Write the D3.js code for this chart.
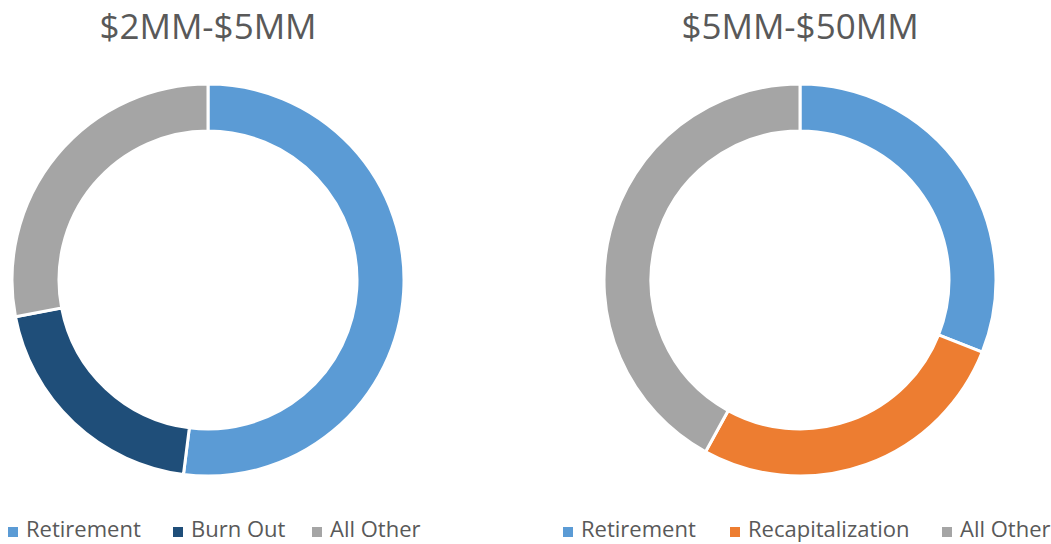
<!DOCTYPE html>
<html>
<head>
<meta charset="utf-8">
<script src="https://cdn.jsdelivr.net/npm/d3@7"></script>
<style>
  html, body { margin: 0; padding: 0; background: #ffffff; }
  svg { display: block; }
  text { font-family: "Open Sans", "Noto Sans", sans-serif; fill: #595959; }
</style>
</head>
<body>
<svg id="chart" width="1051" height="544"></svg>
<script>
// ---- Data ----
const titles = ["$2MM-$5MM", "$5MM-$50MM"];
const leftCategories = ["Retirement", "Burn Out", "All Other"];
const leftValues = [52, 20, 28];
const rightCategories = ["Retirement", "Recapitalization", "All Other"];
const rightValues = [31, 27, 42];
const categoryColors = {
  "Retirement": "#5B9BD5",
  "Burn Out": "#1F4E79",
  "Recapitalization": "#ED7D31",
  "All Other": "#A5A5A5"
};

// ---- Layout ----
const svg = d3.select("#chart");
const outerR = 196, innerR = 149;
const panels = [
  { title: titles[0], cats: leftCategories, vals: leftValues, cx: 208, cy: 280,
    legendX: [8, 173, 312] },
  { title: titles[1], cats: rightCategories, vals: rightValues, cx: 800, cy: 280,
    legendX: [563, 730, 942] }
];

const pie = d3.pie().sort(null).value(d => d.value).startAngle(0).endAngle(2 * Math.PI);
const arc = d3.arc().innerRadius(innerR).outerRadius(outerR);
const color = d3.scaleOrdinal()
  .domain(Object.keys(categoryColors))
  .range(Object.values(categoryColors));

panels.forEach(p => {
  const data = p.cats.map((c, i) => ({ cat: c, value: p.vals[i] }));

  svg.append("text")
    .attr("x", p.cx)
    .attr("y", 39)
    .attr("text-anchor", "middle")
    .style("font-size", "35px")
    .text(p.title);

  const g = svg.append("g").attr("transform", `translate(${p.cx},${p.cy})`);
  g.selectAll("path")
    .data(pie(data))
    .join("path")
    .attr("d", arc)
    .attr("fill", d => color(d.data.cat))
    .attr("stroke", "#ffffff")
    .attr("stroke-width", 3)
    .attr("stroke-linejoin", "miter");

  const lg = svg.append("g");
  data.forEach((d, i) => {
    lg.append("rect")
      .attr("x", p.legendX[i])
      .attr("y", 527)
      .attr("width", 10)
      .attr("height", 10)
      .attr("fill", color(d.cat));
    lg.append("text")
      .attr("x", p.legendX[i] + 18)
      .attr("y", 537)
      .style("font-size", "22px")
      .text(d.cat);
  });
});
</script>
</body>
</html>
